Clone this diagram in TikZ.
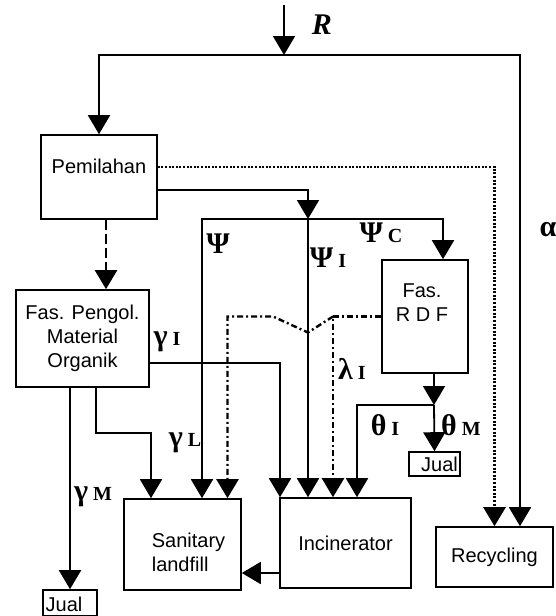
\documentclass[tikz,border=0pt]{standalone}
\usepackage{amsmath}
\usepackage{fontspec}
\setsansfont{Liberation Sans}
\newfontfamily\grkfont{Liberation Serif}
\usetikzlibrary{arrows.meta,positioning,calc}

% greek flow label with a small bold index
\newcommand{\glab}[2]{#1\,{\fontsize{10}{11}\selectfont #2}}

\begin{document}
\begin{tikzpicture}[x=0.5pt, y=-0.5pt,
    box/.style={draw, line width=0.8pt, rectangle, font=\sffamily, align=center, inner sep=0pt},
    link/.style={-{Triangle[width=11pt,length=9.5pt]}, line width=0.9pt},
    glabel/.style={font=\grkfont\bfseries\fontsize{15}{17}\selectfont, inner sep=0pt},
    dashline/.style={line width=1.1pt, dash pattern=on 5pt off 2pt},
    dotline/.style={line width=1.3pt, dash pattern=on 1pt off 0.8pt},
    dashdotline/.style={line width=1.2pt, dash pattern=on 3pt off 1.5pt on 1pt off 1.5pt}
]
\useasboundingbox (0,0) rectangle (556,616);

% boxes
\node[box, minimum width=58pt, minimum height=42pt,
      label={[font=\sffamily, yshift=5.5pt]center:Pemilahan}] (pemilahan) at (99,177) {};
\node[box, minimum width=66.5pt, minimum height=48.5pt] (organik) at (82.5,338.5) {Fas. Pengol.\\Material\\Organik};
\node[box, minimum width=43pt, minimum height=56.5pt,
      label={[font=\sffamily, align=center, xshift=-1.5pt, yshift=7pt]center:Fas.\\R D F}] (rdf) at (425,316.5) {};
\node[box, minimum width=58.5pt, minimum height=45.5pt,
      label={[font=\sffamily, align=left, xshift=3pt, yshift=-4pt]center:Sanitary\\landfill}] (landfill) at (182.5,544.5) {};
\node[box, minimum width=65.5pt, minimum height=45pt] (incin) at (345.5,543) {Incinerator};
\node[box, minimum width=58.5pt, minimum height=30pt] (recyc) at (494.5,557) {Recycling};
\node[box, minimum width=25.5pt, minimum height=12pt,
      label={[font=\sffamily, xshift=2.5pt]center:Jual}] (jualR) at (434.5,464) {};
\node[box, minimum width=27pt, minimum height=13pt,
      label={[font=\sffamily, xshift=-3pt, yshift=-0.5pt]center:Jual}] (jualL) at (70,603) {};

% junctions and inputs
\coordinate (rin) at (284,5);
\coordinate (rjoin) at (284,55);
\coordinate (psiJ) at (308,219);
\coordinate (thJ) at (434,405);
\coordinate (lf1) at ([xshift=-15.75pt]landfill.north);
\coordinate (lf2) at ([xshift=9.75pt]landfill.north);
\coordinate (lf3) at ([xshift=22.5pt]landfill.north);
\coordinate (in1) at ([xshift=-32.75pt]incin.north);
\coordinate (in2) at ([xshift=-18.75pt]incin.north);
\coordinate (in3) at ([xshift=-6.25pt]incin.north);
\coordinate (in4) at ([xshift=5.75pt]incin.north);
\coordinate (rc1) at (recyc.north);
\coordinate (rc2) at ([xshift=12.75pt]recyc.north);
\coordinate (lamJ) at (in3 |- rdf.west);

% R in
\draw[link] (rin) -- (rjoin);
\draw[link] (rjoin) -| (pemilahan.north);
\draw[link] (rjoin) -| (rc2);

% out of Pemilahan
\draw[link, dotline] ([yshift=5pt]pemilahan.east) -| (rc1);
\draw[link] ([yshift=-6.5pt]pemilahan.east) -| (psiJ);
\draw[link, dashline] ([xshift=3.5pt]pemilahan.south) -- ([xshift=3.5pt]pemilahan.south |- organik.north);
\draw[link] (psiJ) -| (lf2);
\draw[link] (psiJ) -| ([xshift=9pt]rdf.north);
\draw[link] (psiJ) -- (in2);

% out of Fas. Pengol.
\draw[link] ([yshift=-12.25pt]organik.east) -| (in1);
\draw[link] ([xshift=6.75pt]organik.south) -- ++(0,45) -| (lf1);
\draw[link] ([xshift=-6.25pt]organik.south) -- (jualL.north);

% out of Fas. RDF
\draw[link, dashdotline] (rdf.west) -| (in3);
\draw[link, dashdotline] (lamJ) -- ++(-25,16) -- ++(-35,-16) -| (lf3);
\draw[link] ([xshift=4.5pt]rdf.south) -- (thJ);
\draw[link] (thJ) -- (jualR.north);
\draw[link] (thJ) -| (in4);

% residue
\draw[link] ([yshift=-15pt]incin.west) -- ([yshift=-15pt]incin.west -| landfill.east);

% labels
\node[glabel, font=\grkfont\bfseries\itshape\fontsize{15}{17}\selectfont] (rlab) at (322,25) {R};
\node[glabel] (psiA) at (218,244) {Ψ};
\node[glabel] (psiI) at (328,258) {\glab{Ψ}{I}};
\node[glabel] (psiC) at (381,233) {\glab{Ψ}{C}};
\node[glabel] (gamI) at (167,342) {\glab{γ}{I}};
\node[glabel] (gamL) at (185,443) {\glab{γ}{L}};
\node[glabel] (gamM) at (93,497) {\glab{γ}{M}};
\node[glabel] (lamI) at (352,369) {\glab{λ}{I}};
\node[glabel] (thI) at (385,425) {\glab{θ}{I}};
\node[glabel] (thM) at (461,425) {\glab{θ}{M}};
\node[glabel] (alph) at (548,230) {α};
\end{tikzpicture}
\end{document}
